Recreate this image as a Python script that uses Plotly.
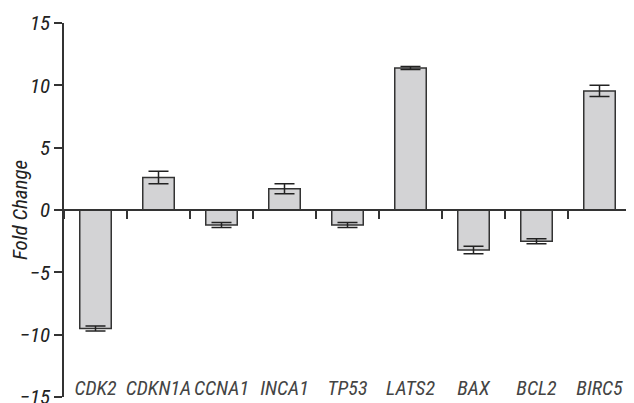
import plotly.graph_objects as go

genes = ["CDK2", "CDKN1A", "CCNA1", "INCA1", "TP53", "LATS2", "BAX", "BCL2", "BIRC5"]
fold_change = [-9.5, 2.6, -1.2, 1.7, -1.2, 11.4, -3.2, -2.5, 9.55]
error = [0.2, 0.5, 0.2, 0.4, 0.2, 0.12, 0.3, 0.2, 0.45]
y_ticks = [-15, -10, -5, 0, 5, 10, 15]

FONT = "Liberation Sans Narrow, Arial Narrow, Roboto Condensed, sans-serif"
AX = "#333333"
FS = 21

fig = go.Figure()
fig.add_trace(go.Bar(
    x=genes, y=fold_change, xaxis="x2", yaxis="y",
    width=0.5,
    marker=dict(color="#d3d3d5", line=dict(color="#333333", width=1.5)),
    error_y=dict(type="data", array=error, color="#222222", thickness=1.5, width=10),
    showlegend=False, hoverinfo="x+y",
))
fig.add_trace(go.Bar(
    x=genes, y=[0] * len(genes), xaxis="x", yaxis="y",
    marker=dict(color="rgba(0,0,0,0)"), showlegend=False, hoverinfo="skip",
))

fig.update_layout(
    width=634, height=410,
    margin=dict(l=56, r=11, t=15, b=21),
    paper_bgcolor="white", plot_bgcolor="white",
    font=dict(family=FONT, size=FS, color="#222222", style="italic"),
    barmode="overlay",
    xaxis=dict(
        type="category", categoryorder="array", categoryarray=genes,
        range=[-0.5, 8.5], showline=False, showgrid=False, zeroline=False,
        ticks="", ticklabelposition="inside", ticklabelstandoff=-5,
        ticklabeloverflow="allow", automargin=False, tickangle=0,
        tickfont=dict(family=FONT, size=20, style="italic"),
    ),
    xaxis2=dict(
        type="category", categoryorder="array", categoryarray=genes,
        range=[-0.5, 8.5], overlaying="x", anchor="free", position=0.5,
        showline=True, linecolor=AX, linewidth=1.5, showgrid=False, zeroline=False,
        ticks="outside", tickson="boundaries", ticklen=8, tickwidth=1.5, tickcolor=AX,
        showticklabels=False, automargin=False,
    ),
    yaxis=dict(
        range=[-15, 15], tickvals=y_ticks, showgrid=False, zeroline=False,
        showline=True, linecolor=AX, linewidth=1.5, automargin=False,
        ticks="outside", ticklen=8, tickwidth=1.5, tickcolor=AX,
        ticklabeloverflow="allow",
        tickfont=dict(family=FONT, size=FS, style="italic"),
        title=dict(text="Fold Change", font=dict(family=FONT, size=FS, style="italic"), standoff=8),
    ),
)

fig.write_html("out.html")
